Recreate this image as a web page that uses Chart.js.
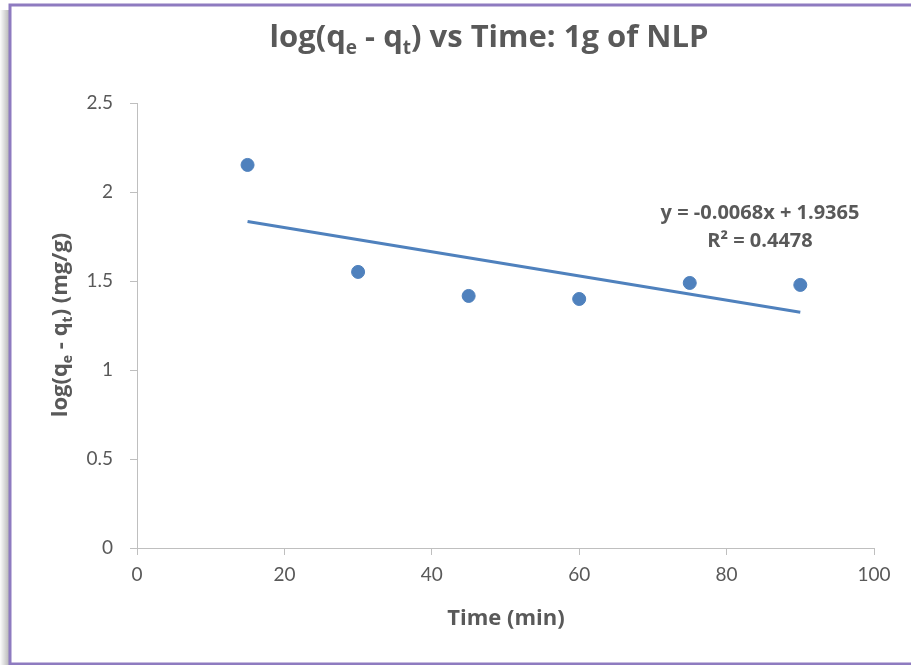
<!DOCTYPE html>
<html>
<head>
<meta charset="utf-8">
<script src="https://cdn.jsdelivr.net/npm/chart.js@4.4.0/dist/chart.umd.min.js"></script>
<style>
    html, body { margin: 0; padding: 0; background: #fff; }
</style>
</head>
<body>
<canvas id="kineticsChart" width="911" height="665"></canvas>
<script>
// data
const timeMin = [15, 30, 45, 60, 75, 90];
const logQeQt = [2.152, 1.551, 1.416, 1.399, 1.489, 1.478];
const xTicks = [0, 20, 40, 60, 80, 100];
const yTicks = [0, 0.5, 1, 1.5, 2, 2.5];
// linear trendline as printed on the chart
const trendSlope = -0.0068;
const trendIntercept = 1.9365;
const trendLines = ["y = -0.0068x + 1.9365", "R² = 0.4478"];

const textGray = "#595959";
const axisGray = "#bfbfbf";
const markBlue = "#4f81bd";
const boldFont = "'Open Sans', Lato, sans-serif";
const tickFont = "Lato, 'Open Sans', sans-serif";

const scatterData = timeMin.map((t, i) => ({ x: t, y: logQeQt[i] }));
const trendX = [timeMin[0], timeMin[timeMin.length - 1]];
const trendData = trendX.map(t => ({ x: t, y: trendSlope * t + trendIntercept }));

// text with subscripts, centered at (0,0) of the current transform
function drawRich(ctx, parts, size) {
    const subSize = Math.round(size * 0.62);
    let total = 0;
    parts.forEach(p => {
        ctx.font = `bold ${p.sub ? subSize : size}px ${boldFont}`;
        p.w = ctx.measureText(p.t).width;
        total += p.w;
    });
    let x = -total / 2;
    parts.forEach(p => {
        ctx.font = `bold ${p.sub ? subSize : size}px ${boldFont}`;
        ctx.fillText(p.t, x, p.sub ? size * 0.24 : 0);
        x += p.w;
    });
}

const decorPlugin = {
    id: "decor",
    beforeDraw(chart) {
        const ctx = chart.ctx;
        ctx.save();
        ctx.fillStyle = "#fff";
        ctx.fillRect(0, 0, chart.width, chart.height);
        // shadow left of the frame
        const g = ctx.createLinearGradient(0, 0, 9, 0);
        g.addColorStop(0, "rgba(0,0,0,0.01)");
        g.addColorStop(1, "rgba(0,0,0,0.28)");
        ctx.fillStyle = g;
        ctx.fillRect(0, 10, 9, chart.height - 10);
        // frame
        ctx.strokeStyle = "#8e7bc0";
        ctx.lineWidth = 3;
        ctx.beginPath();
        ctx.moveTo(chart.width + 5, 5);
        ctx.lineTo(10, 5);
        ctx.lineTo(10, 664);
        ctx.lineTo(chart.width + 5, 664);
        ctx.stroke();
        ctx.restore();
    },
    afterDraw(chart) {
        const ctx = chart.ctx;
        ctx.save();
        ctx.fillStyle = textGray;
        ctx.textBaseline = "alphabetic";
        ctx.textAlign = "left";

        // main title
        ctx.save();
        ctx.translate(489, 47);
        drawRich(ctx, [
            { t: "log(q" }, { t: "e", sub: true }, { t: " - q" }, { t: "t", sub: true },
            { t: ") vs Time: 1g of NLP" }
        ], 31);
        ctx.restore();

        // y axis title
        ctx.save();
        ctx.translate(67, 325);
        ctx.rotate(-Math.PI / 2);
        drawRich(ctx, [
            { t: "log(q" }, { t: "e", sub: true }, { t: " - q" }, { t: "t", sub: true },
            { t: ") (mg/g)" }
        ], 22);
        ctx.restore();

        // x axis title
        ctx.save();
        ctx.translate(506, 625);
        drawRich(ctx, [{ t: "Time (min)" }], 22);
        ctx.restore();

        // trendline equation
        ctx.textAlign = "center";
        ctx.font = `bold 20px ${boldFont}`;
        ctx.fillText(trendLines[0], 760, 219);
        ctx.fillText(trendLines[1], 760, 247);
        ctx.restore();
    }
};

const ctx = document.getElementById("kineticsChart").getContext("2d");

const chart = new Chart(ctx, {
    type: "scatter",
    data: {
        datasets: [
            {
                label: "log(qe - qt)",
                data: scatterData,
                backgroundColor: markBlue,
                borderColor: markBlue,
                pointRadius: 6.5,
                pointHoverRadius: 6.5,
                order: 1
            },
            {
                label: "Linear trend",
                data: trendData,
                showLine: true,
                borderColor: markBlue,
                borderWidth: 3,
                pointRadius: 0,
                fill: false,
                order: 0
            }
        ]
    },
    options: {
        responsive: false,
        animation: false,
        layout: { padding: { left: 0, top: 103, right: 37, bottom: 0 } },
        plugins: {
            legend: { display: false },
            title: { display: false },
            tooltip: { enabled: false }
        },
        scales: {
            x: {
                type: "linear",
                min: 0,
                max: 100,
                afterBuildTicks: s => { s.ticks = xTicks.map(v => ({ value: v })); },
                afterFit: s => { s.height = 117; },
                border: { display: true, color: axisGray, width: 1 },
                grid: { display: true, drawOnChartArea: false, drawTicks: true, tickLength: 7, color: axisGray },
                ticks: { color: textGray, font: { family: tickFont, size: 19 }, padding: 8, maxRotation: 0 }
            },
            y: {
                type: "linear",
                min: 0,
                max: 2.5,
                afterBuildTicks: s => { s.ticks = yTicks.map(v => ({ value: v })); },
                afterFit: s => { s.width = 137; },
                border: { display: true, color: axisGray, width: 1 },
                grid: { display: true, drawOnChartArea: false, drawTicks: true, tickLength: 7, color: axisGray },
                ticks: {
                    color: textGray,
                    font: { family: tickFont, size: 19 },
                    padding: 17,
                    callback: v => String(v)
                }
            }
        }
    },
    plugins: [decorPlugin]
});
</script>
</body>
</html>
